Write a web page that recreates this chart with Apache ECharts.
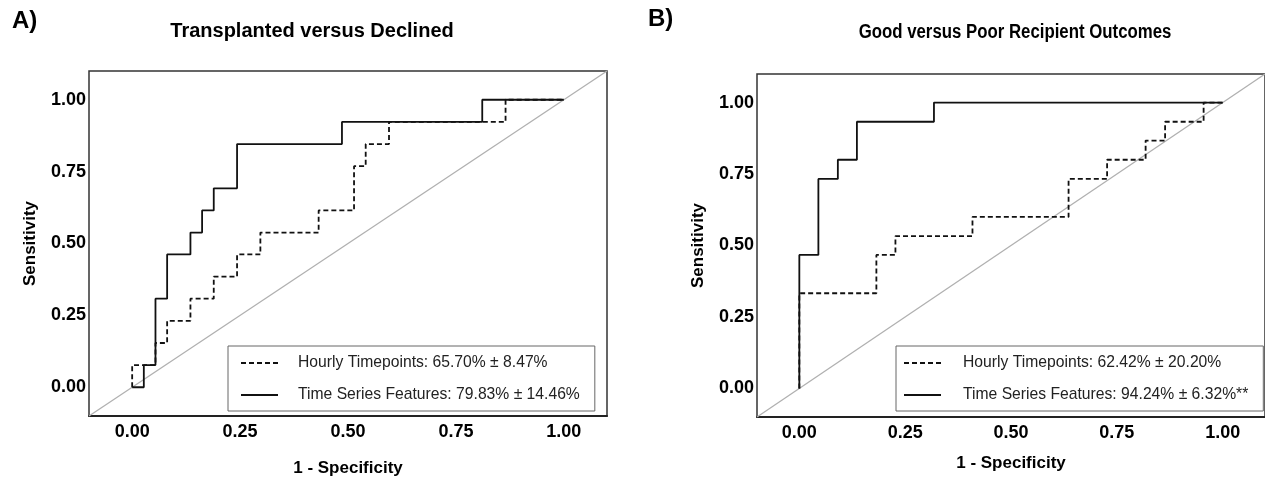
<!DOCTYPE html>
<html>
<head>
<meta charset="utf-8">
<script src="https://cdn.jsdelivr.net/npm/echarts@6/dist/echarts.min.js"></script>
<style>
  html, body { margin: 0; padding: 0; background: #fff; }
  #main { width: 1265px; height: 482px; }
</style>
</head>
<body>
<div id="main"></div>
<script>
// tick labels on both axes
var tickValues = [0, 0.25, 0.5, 0.75, 1];

// A) Transplanted versus Declined  (ROC corner points)
var aHourlyX = [0, 0, 0.054, 0.054, 0.081, 0.081, 0.135, 0.135, 0.189, 0.189, 0.243, 0.243, 0.297, 0.297, 0.432, 0.432, 0.514, 0.514, 0.541, 0.541, 0.595, 0.595, 0.865, 0.865, 1];
var aHourlyY = [0, 0.077, 0.077, 0.154, 0.154, 0.231, 0.231, 0.308, 0.308, 0.385, 0.385, 0.462, 0.462, 0.538, 0.538, 0.615, 0.615, 0.769, 0.769, 0.846, 0.846, 0.923, 0.923, 1, 1];
var aSeriesX = [0, 0.027, 0.027, 0.054, 0.054, 0.081, 0.081, 0.135, 0.135, 0.162, 0.162, 0.189, 0.189, 0.243, 0.243, 0.486, 0.486, 0.811, 0.811, 1];
var aSeriesY = [0, 0, 0.077, 0.077, 0.308, 0.308, 0.462, 0.462, 0.538, 0.538, 0.615, 0.615, 0.692, 0.692, 0.846, 0.846, 0.923, 0.923, 1, 1];

// B) Good versus Poor Recipient Outcomes
var bHourlyX = [0, 0, 0.182, 0.182, 0.227, 0.227, 0.409, 0.409, 0.636, 0.636, 0.727, 0.727, 0.818, 0.818, 0.864, 0.864, 0.955, 0.955, 1];
var bHourlyY = [0, 0.333, 0.333, 0.467, 0.467, 0.533, 0.533, 0.6, 0.6, 0.733, 0.733, 0.8, 0.8, 0.867, 0.867, 0.933, 0.933, 1, 1];
var bSeriesX = [0, 0, 0.045, 0.045, 0.091, 0.091, 0.136, 0.136, 0.318, 0.318, 1];
var bSeriesY = [0, 0.467, 0.467, 0.733, 0.733, 0.8, 0.8, 0.933, 0.933, 1, 1];

var chanceLine = [-0.1, 1.1];

var aNames = ['Hourly Timepoints: 65.70% ± 8.47%', 'Time Series Features: 79.83% ± 14.46%'];
var bNames = ['Hourly Timepoints: 62.42% ± 20.20%', 'Time Series Features: 94.24% ± 6.32%**'];

function pairs(xs, ys) {
    return xs.map(function (x, i) { return [x, ys[i]]; });
}

var FONT = 'Liberation Sans, Arial, Helvetica, sans-serif';

function xAxisFor(idx) {
    return {
        type: 'value', gridIndex: idx, min: -0.1, max: 1.1,
        axisLine: { show: true, onZero: false, lineStyle: { color: '#222', width: 2 } },
        axisTick: { show: false },
        splitLine: { show: false },
        axisLabel: {
            customValues: tickValues, margin: 7,
            formatter: function (v) { return v.toFixed(2); },
            color: '#000', fontSize: 18, fontWeight: 'bold', fontFamily: FONT
        },
        name: '1 - Specificity', nameLocation: 'middle', nameGap: idx === 0 ? 44 : 38,
        nameTextStyle: { color: '#000', fontSize: 17, fontWeight: 'bold', fontFamily: FONT }
    };
}

function yAxisFor(idx) {
    return {
        type: 'value', gridIndex: idx, min: -0.1, max: 1.1,
        axisLine: { show: false },
        axisTick: { show: false },
        splitLine: { show: false },
        axisLabel: {
            customValues: tickValues, margin: 3,
            formatter: function (v) { return v.toFixed(2); },
            color: '#000', fontSize: 18, fontWeight: 'bold', fontFamily: FONT
        },
        name: 'Sensitivity', nameLocation: 'middle', nameGap: 50,
        nameTextStyle: { color: '#000', fontSize: 17, fontWeight: 'bold', fontFamily: FONT }
    };
}

function curve(name, idx, xs, ys, dashed) {
    return {
        name: name, type: 'line', xAxisIndex: idx, yAxisIndex: idx,
        data: pairs(xs, ys), symbol: 'none', z: 3,
        lineStyle: { color: '#111', width: 1.8, type: dashed ? [5, 3] : 'solid' },
        itemStyle: { color: '#111' }
    };
}

function diagonal(idx) {
    return {
        name: 'chance' + idx, type: 'line', xAxisIndex: idx, yAxisIndex: idx,
        data: pairs(chanceLine, chanceLine), symbol: 'none', z: 2, silent: true,
        lineStyle: { color: '#b0b0b0', width: 1.3 }
    };
}

function legendFor(names, left, padLeft, textPad) {
    return {
        data: names, orient: 'vertical', left: left, top: 346,
        padding: [9, 15, 8, padLeft], itemWidth: 37, itemHeight: 14, itemGap: 16,
        borderColor: '#666', borderWidth: 1, selectedMode: false,
        itemStyle: { opacity: 0 },
        textStyle: { color: '#222', fontSize: 15.7, fontFamily: FONT, padding: [0, 0, 0, textPad] }
    };
}

var myChart = echarts.init(document.getElementById('main'), null, { renderer: 'canvas' });

var option = {
    backgroundColor: '#fff',
    animation: false,
    grid: [
        { left: 89, right: 658, top: 71, bottom: 65, show: true, borderColor: '#333', borderWidth: 1.5, backgroundColor: 'transparent' },
        { left: 757, right: -5, top: 74, bottom: 65, show: true, borderColor: '#333', borderWidth: 1.5, backgroundColor: 'transparent' }
    ],
    xAxis: [xAxisFor(0), xAxisFor(1)],
    yAxis: [yAxisFor(0), yAxisFor(1)],
    legend: [
        legendFor(aNames, 228, 12, 15),
        legendFor(bNames, 896, 7, 17)
    ],
    graphic: [
        { type: 'text', x: 12, y: 9, style: { text: 'A)', font: 'bold 24px ' + FONT, fill: '#000' } },
        { type: 'text', x: 312, y: 21, style: { text: 'Transplanted versus Declined', font: 'bold 20px ' + FONT, fill: '#000', align: 'center' } },
        { type: 'text', x: 648, y: 7, style: { text: 'B)', font: 'bold 24px ' + FONT, fill: '#000' } },
        { type: 'text', x: 1015, y: 22, scaleX: 0.84, style: { text: 'Good versus Poor Recipient Outcomes', font: 'bold 20px ' + FONT, fill: '#000', align: 'center' } }
    ],
    series: [
        diagonal(0),
        curve(aNames[0], 0, aHourlyX, aHourlyY, true),
        curve(aNames[1], 0, aSeriesX, aSeriesY, false),
        diagonal(1),
        curve(bNames[0], 1, bHourlyX, bHourlyY, true),
        curve(bNames[1], 1, bSeriesX, bSeriesY, false)
    ]
};

myChart.setOption(option);
</script>
</body>
</html>
